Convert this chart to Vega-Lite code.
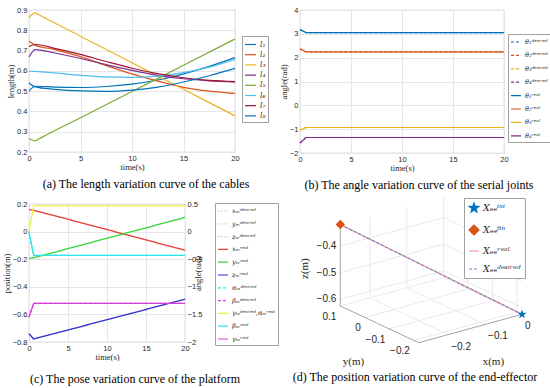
{
  "$schema": "https://vega.github.io/schema/vega-lite/v6.json",
  "padding": {"left": 1, "top": 5, "right": 0, "bottom": 0},
  "background": "white",
  "columns": 2,
  "spacing": {"row": 51, "column": 65},
  "bounds": "flush",
  "resolve": {"scale": {"color": "independent", "strokeDash": "independent", "shape": "independent", "stroke": "independent", "x": "independent", "y": "independent"}, "legend": {"color": "independent", "strokeDash": "independent", "shape": "independent"}},
  "config": {
    "font": "Liberation Sans",
    "view": {"stroke": "#a8a8a8", "strokeWidth": 0.8},
    "axis": {"labelFont": "Liberation Sans", "labelFontSize": 7.5, "labelColor": "#262626", "titleFont": "Liberation Serif", "titleFontSize": 8.5, "titleFontWeight": "normal", "titleColor": "#262626", "ticks": false, "domain": false, "gridColor": "#e6e6e6", "labelPadding": 2, "titlePadding": 1, "labelFlush": false, "labelOverlap": false},
    "legend": {"labelFont": "DejaVu Serif", "labelFontStyle": "italic", "labelColor": "#262626", "strokeColor": "#a0a0a0", "fillColor": "#ffffff", "padding": 2, "labelOffset": 3, "symbolStrokeWidth": 1.2, "symbolType": "stroke"},
    "title": {"font": "Liberation Serif", "fontSize": 12, "fontWeight": "normal", "color": "#000000"}
  },
  "datasets": {
    "a": [
      {"s":"l₁","t":0,"v":0.500},{"s":"l₁","t":0.6,"v":0.524},{"s":"l₁","t":2.5,"v":0.520},{"s":"l₁","t":5,"v":0.518},{"s":"l₁","t":7.5,"v":0.523},{"s":"l₁","t":10,"v":0.535},{"s":"l₁","t":12.5,"v":0.555},{"s":"l₁","t":15,"v":0.585},{"s":"l₁","t":17.5,"v":0.622},{"s":"l₁","t":20,"v":0.665},
      {"s":"l₂","t":0,"v":0.746},{"s":"l₂","t":0.6,"v":0.727},{"s":"l₂","t":2.5,"v":0.705},{"s":"l₂","t":5,"v":0.670},{"s":"l₂","t":7.5,"v":0.626},{"s":"l₂","t":10,"v":0.585},{"s":"l₂","t":12.5,"v":0.549},{"s":"l₂","t":15,"v":0.519},{"s":"l₂","t":17.5,"v":0.500},{"s":"l₂","t":20,"v":0.489},
      {"s":"l₃","t":0,"v":0.862},{"s":"l₃","t":0.6,"v":0.886},{"s":"l₃","t":0.8,"v":0.881},{"s":"l₃","t":1.2,"v":0.870},{"s":"l₃","t":5,"v":0.771},{"s":"l₃","t":10,"v":0.640},{"s":"l₃","t":15,"v":0.509},{"s":"l₃","t":20,"v":0.378},
      {"s":"l₄","t":0,"v":0.668},{"s":"l₄","t":0.6,"v":0.705},{"s":"l₄","t":2.5,"v":0.688},{"s":"l₄","t":5,"v":0.661},{"s":"l₄","t":7.5,"v":0.631},{"s":"l₄","t":10,"v":0.602},{"s":"l₄","t":12.5,"v":0.578},{"s":"l₄","t":15,"v":0.561},{"s":"l₄","t":17.5,"v":0.551},{"s":"l₄","t":20,"v":0.546},
      {"s":"l₅","t":0,"v":0.265},{"s":"l₅","t":0.6,"v":0.255},{"s":"l₅","t":0.8,"v":0.260},{"s":"l₅","t":1.2,"v":0.271},{"s":"l₅","t":5,"v":0.369},{"s":"l₅","t":10,"v":0.498},{"s":"l₅","t":15,"v":0.628},{"s":"l₅","t":20,"v":0.757},
      {"s":"l₆","t":0,"v":0.598},{"s":"l₆","t":0.6,"v":0.597},{"s":"l₆","t":2.5,"v":0.590},{"s":"l₆","t":5,"v":0.578},{"s":"l₆","t":7.5,"v":0.570},{"s":"l₆","t":10,"v":0.568},{"s":"l₆","t":12.5,"v":0.574},{"s":"l₆","t":15,"v":0.591},{"s":"l₆","t":17.5,"v":0.618},{"s":"l₆","t":20,"v":0.656},
      {"s":"l₇","t":0,"v":0.720},{"s":"l₇","t":0.6,"v":0.730},{"s":"l₇","t":2.5,"v":0.711},{"s":"l₇","t":5,"v":0.681},{"s":"l₇","t":7.5,"v":0.646},{"s":"l₇","t":10,"v":0.613},{"s":"l₇","t":12.5,"v":0.586},{"s":"l₇","t":15,"v":0.566},{"s":"l₇","t":17.5,"v":0.553},{"s":"l₇","t":20,"v":0.547},
      {"s":"l₈","t":0,"v":0.540},{"s":"l₈","t":0.6,"v":0.521},{"s":"l₈","t":2.5,"v":0.509},{"s":"l₈","t":5,"v":0.501},{"s":"l₈","t":7.5,"v":0.499},{"s":"l₈","t":10,"v":0.505},{"s":"l₈","t":12.5,"v":0.520},{"s":"l₈","t":15,"v":0.545},{"s":"l₈","t":17.5,"v":0.576},{"s":"l₈","t":20,"v":0.612}
    ],
    "b": [
      {"s":"θ₁ᵈᵉˢⁱʳᵉᵈ","t":0,"v":3.18},{"s":"θ₁ᵈᵉˢⁱʳᵉᵈ","t":0.6,"v":3.05},{"s":"θ₁ᵈᵉˢⁱʳᵉᵈ","t":20,"v":3.05},
      {"s":"θ₂ᵈᵉˢⁱʳᵉᵈ","t":0,"v":2.37},{"s":"θ₂ᵈᵉˢⁱʳᵉᵈ","t":0.6,"v":2.24},{"s":"θ₂ᵈᵉˢⁱʳᵉᵈ","t":20,"v":2.24},
      {"s":"θ₃ᵈᵉˢⁱʳᵉᵈ","t":0,"v":-1.04},{"s":"θ₃ᵈᵉˢⁱʳᵉᵈ","t":0.6,"v":-0.93},{"s":"θ₃ᵈᵉˢⁱʳᵉᵈ","t":20,"v":-0.93},
      {"s":"θ₄ᵈᵉˢⁱʳᵉᵈ","t":0,"v":-1.58},{"s":"θ₄ᵈᵉˢⁱʳᵉᵈ","t":0.6,"v":-1.35},{"s":"θ₄ᵈᵉˢⁱʳᵉᵈ","t":20,"v":-1.35},
      {"s":"θ₁ʳᵉᵃˡ","t":0,"v":3.18},{"s":"θ₁ʳᵉᵃˡ","t":0.6,"v":3.05},{"s":"θ₁ʳᵉᵃˡ","t":20,"v":3.05},
      {"s":"θ₂ʳᵉᵃˡ","t":0,"v":2.37},{"s":"θ₂ʳᵉᵃˡ","t":0.6,"v":2.24},{"s":"θ₂ʳᵉᵃˡ","t":20,"v":2.24},
      {"s":"θ₃ʳᵉᵃˡ","t":0,"v":-1.04},{"s":"θ₃ʳᵉᵃˡ","t":0.6,"v":-0.93},{"s":"θ₃ʳᵉᵃˡ","t":20,"v":-0.93},
      {"s":"θ₄ʳᵉᵃˡ","t":0,"v":-1.58},{"s":"θ₄ʳᵉᵃˡ","t":0.6,"v":-1.35},{"s":"θ₄ʳᵉᵃˡ","t":20,"v":-1.35}
    ],
    "c_pos": [
      {"s":"xₘᵈᵉˢⁱʳᵉᵈ","t":0,"v":0.16},{"s":"xₘᵈᵉˢⁱʳᵉᵈ","t":0.6,"v":0.155},{"s":"xₘᵈᵉˢⁱʳᵉᵈ","t":20,"v":-0.135},
      {"s":"yₘᵈᵉˢⁱʳᵉᵈ","t":0,"v":-0.195},{"s":"yₘᵈᵉˢⁱʳᵉᵈ","t":0.6,"v":-0.19},{"s":"yₘᵈᵉˢⁱʳᵉᵈ","t":20,"v":0.103},
      {"s":"zₘᵈᵉˢⁱʳᵉᵈ","t":0,"v":-0.74},{"s":"zₘᵈᵉˢⁱʳᵉᵈ","t":0.6,"v":-0.778},{"s":"zₘᵈᵉˢⁱʳᵉᵈ","t":20,"v":-0.49},
      {"s":"xₘʳᵉᵃˡ","t":0,"v":0.16},{"s":"xₘʳᵉᵃˡ","t":0.6,"v":0.155},{"s":"xₘʳᵉᵃˡ","t":20,"v":-0.135},
      {"s":"yₘʳᵉᵃˡ","t":0,"v":-0.195},{"s":"yₘʳᵉᵃˡ","t":0.6,"v":-0.19},{"s":"yₘʳᵉᵃˡ","t":20,"v":0.103},
      {"s":"zₘʳᵉᵃˡ","t":0,"v":-0.74},{"s":"zₘʳᵉᵃˡ","t":0.6,"v":-0.778},{"s":"zₘʳᵉᵃˡ","t":20,"v":-0.49}
    ],
    "c_ang": [
      {"s":"αₘᵈᵉˢⁱʳᵉᵈ","t":0,"v":0},{"s":"αₘᵈᵉˢⁱʳᵉᵈ","t":0.6,"v":-0.43},{"s":"αₘᵈᵉˢⁱʳᵉᵈ","t":20,"v":-0.43},
      {"s":"βₘᵈᵉˢⁱʳᵉᵈ","t":0,"v":-1.55},{"s":"βₘᵈᵉˢⁱʳᵉᵈ","t":0.6,"v":-1.3},{"s":"βₘᵈᵉˢⁱʳᵉᵈ","t":20,"v":-1.3},
      {"s":"γₘᵈᵉˢⁱʳᵉᵈ,αₘʳᵉᵃˡ","t":0,"v":0},{"s":"γₘᵈᵉˢⁱʳᵉᵈ,αₘʳᵉᵃˡ","t":0.6,"v":0.465},{"s":"γₘᵈᵉˢⁱʳᵉᵈ,αₘʳᵉᵃˡ","t":20,"v":0.465},
      {"s":"βₘʳᵉᵃˡ","t":0,"v":0},{"s":"βₘʳᵉᵃˡ","t":0.6,"v":-0.43},{"s":"βₘʳᵉᵃˡ","t":20,"v":-0.43},
      {"s":"γₘʳᵉᵃˡ","t":0,"v":-1.55},{"s":"γₘʳᵉᵃˡ","t":0.6,"v":-1.3},{"s":"γₘʳᵉᵃˡ","t":20,"v":-1.3}
    ],
    "d_seg": [
      {"k":"g","x1":-0.28,"y1":0.1,"z1":-0.6,"x2":0,"y2":0.1,"z2":-0.6},
      {"k":"g","x1":-0.28,"y1":0.1,"z1":-0.5,"x2":0,"y2":0.1,"z2":-0.5},
      {"k":"g","x1":-0.28,"y1":0.1,"z1":-0.4,"x2":0,"y2":0.1,"z2":-0.4},
      {"k":"g","x1":-0.2,"y1":0.1,"z1":-0.625,"x2":-0.2,"y2":0.1,"z2":-0.32},
      {"k":"g","x1":-0.1,"y1":0.1,"z1":-0.625,"x2":-0.1,"y2":0.1,"z2":-0.32},
      {"k":"g","x1":0,"y1":0.1,"z1":-0.625,"x2":0,"y2":0.1,"z2":-0.32},
      {"k":"g","x1":0,"y1":-0.22,"z1":-0.6,"x2":0,"y2":0.1,"z2":-0.6},
      {"k":"g","x1":0,"y1":-0.22,"z1":-0.5,"x2":0,"y2":0.1,"z2":-0.5},
      {"k":"g","x1":0,"y1":-0.22,"z1":-0.4,"x2":0,"y2":0.1,"z2":-0.4},
      {"k":"g","x1":0,"y1":0,"z1":-0.625,"x2":0,"y2":0,"z2":-0.32},
      {"k":"g","x1":0,"y1":-0.1,"z1":-0.625,"x2":0,"y2":-0.1,"z2":-0.32},
      {"k":"g","x1":0,"y1":-0.2,"z1":-0.625,"x2":0,"y2":-0.2,"z2":-0.32},
      {"k":"g","x1":-0.2,"y1":-0.22,"z1":-0.625,"x2":-0.2,"y2":0.1,"z2":-0.625},
      {"k":"g","x1":-0.1,"y1":-0.22,"z1":-0.625,"x2":-0.1,"y2":0.1,"z2":-0.625},
      {"k":"g","x1":0,"y1":-0.22,"z1":-0.625,"x2":0,"y2":0.1,"z2":-0.625},
      {"k":"g","x1":-0.28,"y1":-0.2,"z1":-0.625,"x2":0,"y2":-0.2,"z2":-0.625},
      {"k":"g","x1":-0.28,"y1":-0.1,"z1":-0.625,"x2":0,"y2":-0.1,"z2":-0.625},
      {"k":"g","x1":-0.28,"y1":0,"z1":-0.625,"x2":0,"y2":0,"z2":-0.625},
      {"k":"g","x1":-0.28,"y1":0.1,"z1":-0.625,"x2":0,"y2":0.1,"z2":-0.625},
      {"k":"b","x1":-0.28,"y1":0.1,"z1":-0.625,"x2":-0.28,"y2":0.1,"z2":-0.32},
      {"k":"b","x1":-0.28,"y1":0.1,"z1":-0.625,"x2":-0.28,"y2":-0.22,"z2":-0.625},
      {"k":"b","x1":-0.28,"y1":-0.22,"z1":-0.625,"x2":0,"y2":-0.22,"z2":-0.625}
    ],
    "d_traj": [
      {"s":"Xₑₑʳᵉᵃˡ","o":0,"x":-0.28,"y":0.1,"z":-0.32},{"s":"Xₑₑʳᵉᵃˡ","o":1,"x":0,"y":-0.22,"z":-0.625},
      {"s":"Xₑₑᵈᵉˢⁱʳᵉᵈ","o":0,"x":-0.28,"y":0.1,"z":-0.32},{"s":"Xₑₑᵈᵉˢⁱʳᵉᵈ","o":1,"x":0,"y":-0.22,"z":-0.625}
    ],
    "d_pts": [
      {"s":"Xₑₑⁱⁿⁱ","x":0,"y":-0.22,"z":-0.625},
      {"s":"Xₑₑᶠⁱⁿ","x":-0.28,"y":0.1,"z":-0.32}
    ],
    "d_txt": [
      {"r":"zt","lab":"−0.4","x":-0.28,"y":0.1,"z":-0.4},
      {"r":"zt","lab":"−0.5","x":-0.28,"y":0.1,"z":-0.5},
      {"r":"zt","lab":"−0.6","x":-0.28,"y":0.1,"z":-0.6},
      {"r":"yt","lab":"0.1","x":-0.28,"y":0.1,"z":-0.625},
      {"r":"yt","lab":"0","x":-0.28,"y":0,"z":-0.625},
      {"r":"yt","lab":"−0.1","x":-0.28,"y":-0.1,"z":-0.625},
      {"r":"yt","lab":"−0.2","x":-0.28,"y":-0.2,"z":-0.625},
      {"r":"xt","lab":"0","x":0,"y":-0.22,"z":-0.625},
      {"r":"xt","lab":"−0.1","x":-0.1,"y":-0.22,"z":-0.625},
      {"r":"xt","lab":"−0.2","x":-0.2,"y":-0.22,"z":-0.625},
      {"r":"zT","lab":"z(m)","x":-0.28,"y":0.1,"z":-0.47},
      {"r":"yT","lab":"y(m)","x":-0.28,"y":-0.06,"z":-0.625},
      {"r":"xT","lab":"x(m)","x":-0.14,"y":-0.22,"z":-0.625}
    ]
  },
  "concat": [
    {
      "width": 206, "height": 142,
      "title": {"text": "(a) The length variation curve of the cables", "orient": "bottom", "offset": 8, "frame": "group", "dx": 14},
      "data": {"name": "a"},
      "mark": {"type": "line", "interpolate": "monotone", "strokeWidth": 1.2},
      "encoding": {
        "x": {"field": "t", "type": "quantitative", "scale": {"domain": [0, 20], "nice": false}, "axis": {"title": "time(s)", "values": [0, 5, 10, 15, 20], "grid": true}},
        "y": {"field": "v", "type": "quantitative", "scale": {"domain": [0.2, 0.9], "nice": false, "zero": false}, "axis": {"title": "length(m)", "values": [0.2, 0.3, 0.4, 0.5, 0.6, 0.7, 0.8, 0.9], "format": ".1f", "grid": true}},
        "color": {"field": "s", "type": "nominal",
          "scale": {"domain": ["l₁","l₂","l₃","l₄","l₅","l₆","l₇","l₈"], "range": ["#0072BD","#D95319","#EDB120","#7E2F8E","#77AC30","#4DBEEE","#A2142F","#0072BD"]},
          "legend": {"title": null, "orient": "none", "legendX": 213, "legendY": 26, "labelFontSize": 7.5, "symbolSize": 121, "rowPadding": 0.2}}
      }
    },
    {
      "width": 204, "height": 143,
      "title": {"text": "(b) The angle variation curve of the serial joints", "orient": "bottom", "offset": 8, "frame": "group", "dx": 17},
      "data": {"name": "b"},
      "mark": {"type": "line", "strokeWidth": 1.2},
      "encoding": {
        "x": {"field": "t", "type": "quantitative", "scale": {"domain": [0, 20], "nice": false}, "axis": {"title": "time(s)", "values": [0, 5, 10, 15, 20], "grid": true}},
        "y": {"field": "v", "type": "quantitative", "scale": {"domain": [-2, 4], "nice": false, "zero": false}, "axis": {"title": "angle(rad)", "values": [-2, -1, 0, 1, 2, 3, 4], "format": "d", "grid": true}},
        "color": {"field": "s", "type": "nominal",
          "scale": {"domain": ["θ₁ᵈᵉˢⁱʳᵉᵈ","θ₂ᵈᵉˢⁱʳᵉᵈ","θ₃ᵈᵉˢⁱʳᵉᵈ","θ₄ᵈᵉˢⁱʳᵉᵈ","θ₁ʳᵉᵃˡ","θ₂ʳᵉᵃˡ","θ₃ʳᵉᵃˡ","θ₄ʳᵉᵃˡ"], "range": ["#0072BD","#D95319","#EDB120","#7E2F8E","#0072BD","#D95319","#EDB120","#7E2F8E"]},
          "legend": {"title": null, "orient": "none", "legendX": 208, "legendY": 24, "labelFontSize": 6.5, "symbolSize": 100, "rowPadding": 3.4}},
        "strokeDash": {"field": "s", "type": "nominal",
          "scale": {"domain": ["θ₁ᵈᵉˢⁱʳᵉᵈ","θ₂ᵈᵉˢⁱʳᵉᵈ","θ₃ᵈᵉˢⁱʳᵉᵈ","θ₄ᵈᵉˢⁱʳᵉᵈ","θ₁ʳᵉᵃˡ","θ₂ʳᵉᵃˡ","θ₃ʳᵉᵃˡ","θ₄ʳᵉᵃˡ"], "range": [[3,2],[3,2],[3,2],[3,2],[1,0],[1,0],[1,0],[1,0]]},
          "legend": {"title": null, "orient": "none", "legendX": 208, "legendY": 24, "labelFontSize": 6.5, "symbolSize": 100, "rowPadding": 3.4}}
      }
    },
    {
      "width": 156, "height": 138,
      "title": {"text": "(c) The pose variation curve of the platform", "orient": "bottom", "offset": 13, "frame": "group", "dx": 28},
      "layer": [
        {
          "data": {"name": "c_pos"},
          "mark": {"type": "line", "strokeWidth": 1.3},
          "encoding": {
            "x": {"field": "t", "type": "quantitative", "scale": {"domain": [0, 20], "nice": false}, "axis": {"title": "time(s)", "values": [0, 5, 10, 15, 20], "grid": true}},
            "y": {"field": "v", "type": "quantitative", "scale": {"domain": [-0.8, 0.2], "nice": false, "zero": false}, "axis": {"title": "position(m)", "values": [-0.8, -0.6, -0.4, -0.2, 0, 0.2], "format": ".1~f", "grid": true}},
            "color": {"field": "s", "type": "nominal",
              "scale": {"domain": ["xₘᵈᵉˢⁱʳᵉᵈ","yₘᵈᵉˢⁱʳᵉᵈ","zₘᵈᵉˢⁱʳᵉᵈ","xₘʳᵉᵃˡ","yₘʳᵉᵃˡ","zₘʳᵉᵃˡ","αₘᵈᵉˢⁱʳᵉᵈ","βₘᵈᵉˢⁱʳᵉᵈ","γₘᵈᵉˢⁱʳᵉᵈ,αₘʳᵉᵃˡ","βₘʳᵉᵃˡ","γₘʳᵉᵃˡ"], "range": ["#F3B3AE","#B6F0B6","#CFCFCF","#E8413C","#3CD63C","#2F2FD8","#2EE6E6","#E040E0","#F2F23C","#2EE6E6","#D63CD6"]},
              "legend": {"title": null, "orient": "none", "legendX": 186, "legendY": -1, "labelFontSize": 6.5, "symbolSize": 100, "rowPadding": 2.8}},
            "strokeDash": {"field": "s", "type": "nominal",
              "scale": {"domain": ["xₘᵈᵉˢⁱʳᵉᵈ","yₘᵈᵉˢⁱʳᵉᵈ","zₘᵈᵉˢⁱʳᵉᵈ","xₘʳᵉᵃˡ","yₘʳᵉᵃˡ","zₘʳᵉᵃˡ","αₘᵈᵉˢⁱʳᵉᵈ","βₘᵈᵉˢⁱʳᵉᵈ","γₘᵈᵉˢⁱʳᵉᵈ,αₘʳᵉᵃˡ","βₘʳᵉᵃˡ","γₘʳᵉᵃˡ"], "range": [[1.5,1.5],[1.5,1.5],[1.5,1.5],[1,0],[1,0],[1,0],[3,2],[3,2],[1,0],[1,0],[1,0]]},
              "legend": {"title": null, "orient": "none", "legendX": 186, "legendY": -1, "labelFontSize": 6.5, "symbolSize": 100, "rowPadding": 2.8}}
          }
        },
        {
          "data": {"name": "c_ang"},
          "mark": {"type": "line", "strokeWidth": 1.3},
          "encoding": {
            "x": {"field": "t", "type": "quantitative", "scale": {"domain": [0, 20], "nice": false}, "axis": {"title": "time(s)", "values": [0, 5, 10, 15, 20], "grid": true}},
            "y": {"field": "v", "type": "quantitative", "scale": {"domain": [-2, 0.5], "nice": false, "zero": false}, "axis": {"orient": "right", "title": "angle(rad)", "titleAngle": 270, "values": [-2, -1.5, -1, -0.5, 0, 0.5], "format": "~g", "grid": false}},
            "color": {"field": "s", "type": "nominal",
              "scale": {"domain": ["xₘᵈᵉˢⁱʳᵉᵈ","yₘᵈᵉˢⁱʳᵉᵈ","zₘᵈᵉˢⁱʳᵉᵈ","xₘʳᵉᵃˡ","yₘʳᵉᵃˡ","zₘʳᵉᵃˡ","αₘᵈᵉˢⁱʳᵉᵈ","βₘᵈᵉˢⁱʳᵉᵈ","γₘᵈᵉˢⁱʳᵉᵈ,αₘʳᵉᵃˡ","βₘʳᵉᵃˡ","γₘʳᵉᵃˡ"], "range": ["#F3B3AE","#B6F0B6","#CFCFCF","#E8413C","#3CD63C","#2F2FD8","#2EE6E6","#E040E0","#F2F23C","#2EE6E6","#D63CD6"]},
              "legend": {"title": null, "orient": "none", "legendX": 186, "legendY": -1, "labelFontSize": 6.5, "symbolSize": 100, "rowPadding": 2.8}},
            "strokeDash": {"field": "s", "type": "nominal",
              "scale": {"domain": ["xₘᵈᵉˢⁱʳᵉᵈ","yₘᵈᵉˢⁱʳᵉᵈ","zₘᵈᵉˢⁱʳᵉᵈ","xₘʳᵉᵃˡ","yₘʳᵉᵃˡ","zₘʳᵉᵃˡ","αₘᵈᵉˢⁱʳᵉᵈ","βₘᵈᵉˢⁱʳᵉᵈ","γₘᵈᵉˢⁱʳᵉᵈ,αₘʳᵉᵃˡ","βₘʳᵉᵃˡ","γₘʳᵉᵃˡ"], "range": [[1.5,1.5],[1.5,1.5],[1.5,1.5],[1,0],[1,0],[1,0],[3,2],[3,2],[1,0],[1,0],[1,0]]},
              "legend": {"title": null, "orient": "none", "legendX": 186, "legendY": -1, "labelFontSize": 6.5, "symbolSize": 100, "rowPadding": 2.8}}
          }
        }
      ],
      "resolve": {"scale": {"y": "independent"}}
    },
    {
      "width": 248, "height": 166,
      "view": {"stroke": null},
      "title": {"text": "(d) The position variation curve of the end-effector", "orient": "bottom", "offset": 2, "frame": "group", "dx": -9},
      "layer": [
        {
          "data": {"name": "d_seg"},
          "transform": [
            {"calculate": "520 + 368.9*datum.x1 - 245*(datum.y1+0.22)", "as": "u1"},
            {"calculate": "313.3 - 101.4*datum.x1 - 114.7*(datum.y1+0.22) - 267*(datum.z1+0.625)", "as": "w1"},
            {"calculate": "520 + 368.9*datum.x2 - 245*(datum.y2+0.22)", "as": "u2"},
            {"calculate": "313.3 - 101.4*datum.x2 - 114.7*(datum.y2+0.22) - 267*(datum.z2+0.625)", "as": "w2"}
          ],
          "mark": {"type": "rule", "strokeWidth": 0.8},
          "encoding": {
            "x": {"field": "u1", "type": "quantitative", "scale": {"domain": [298, 546], "nice": false, "zero": false}, "axis": null},
            "y": {"field": "w1", "type": "quantitative", "scale": {"domain": [203, 369], "nice": false, "zero": false, "reverse": true}, "axis": null},
            "x2": {"field": "u2"},
            "y2": {"field": "w2"},
            "stroke": {"field": "k", "type": "nominal", "scale": {"domain": ["g", "b"], "range": ["#e4e4e4", "#8a8a8a"]}, "legend": null}
          }
        },
        {
          "data": {"name": "d_traj"},
          "transform": [
            {"calculate": "520 + 368.9*datum.x - 245*(datum.y+0.22)", "as": "u"},
            {"calculate": "313.3 - 101.4*datum.x - 114.7*(datum.y+0.22) - 267*(datum.z+0.625)", "as": "w"}
          ],
          "mark": {"type": "line", "strokeWidth": 1.1},
          "encoding": {
            "x": {"field": "u", "type": "quantitative"},
            "y": {"field": "w", "type": "quantitative"},
            "order": {"field": "o"},
            "color": {"field": "s", "type": "nominal",
              "scale": {"domain": ["Xₑₑⁱⁿⁱ","Xₑₑᶠⁱⁿ","Xₑₑʳᵉᵃˡ","Xₑₑᵈᵉˢⁱʳᵉᵈ"], "range": ["#0072BD","#D95319","#E58A9A","#8080C8"]},
              "legend": {"title": null, "orient": "none", "legendX": 164, "legendY": -6, "labelFontSize": 9.5, "symbolSize": 100, "rowPadding": 7, "padding": 4}},
            "strokeDash": {"field": "s", "type": "nominal",
              "scale": {"domain": ["Xₑₑⁱⁿⁱ","Xₑₑᶠⁱⁿ","Xₑₑʳᵉᵃˡ","Xₑₑᵈᵉˢⁱʳᵉᵈ"], "range": [[1,0],[1,0],[1,0],[3,2]]},
              "legend": {"title": null, "orient": "none", "legendX": 164, "legendY": -6, "labelFontSize": 9.5, "symbolSize": 100, "rowPadding": 7, "padding": 4}}
          }
        },
        {
          "data": {"name": "d_pts"},
          "transform": [
            {"calculate": "520 + 368.9*datum.x - 245*(datum.y+0.22)", "as": "u"},
            {"calculate": "313.3 - 101.4*datum.x - 114.7*(datum.y+0.22) - 267*(datum.z+0.625)", "as": "w"}
          ],
          "mark": {"type": "point", "filled": true, "size": 90, "opacity": 1},
          "encoding": {
            "x": {"field": "u", "type": "quantitative"},
            "y": {"field": "w", "type": "quantitative"},
            "color": {"field": "s", "type": "nominal",
              "scale": {"domain": ["Xₑₑⁱⁿⁱ","Xₑₑᶠⁱⁿ","Xₑₑʳᵉᵃˡ","Xₑₑᵈᵉˢⁱʳᵉᵈ"], "range": ["#0072BD","#D95319","#E58A9A","#8080C8"]},
              "legend": {"title": null, "orient": "none", "legendX": 164, "legendY": -6, "labelFontSize": 9.5, "symbolSize": 100, "rowPadding": 7, "padding": 4}},
            "shape": {"field": "s", "type": "nominal",
              "scale": {"domain": ["Xₑₑⁱⁿⁱ","Xₑₑᶠⁱⁿ","Xₑₑʳᵉᵃˡ","Xₑₑᵈᵉˢⁱʳᵉᵈ"], "range": ["M0,-1L0.235,-0.324L0.951,-0.309L0.38,0.124L0.588,0.809L0,0.4L-0.588,0.809L-0.38,0.124L-0.951,-0.309L-0.235,-0.324Z", "diamond", "stroke", "stroke"]},
              "legend": {"title": null, "orient": "none", "legendX": 164, "legendY": -6, "labelFontSize": 9.5, "symbolSize": 100, "rowPadding": 7, "padding": 4}}
          }
        },
        {
          "data": {"name": "d_txt"},
          "transform": [
            {"filter": "datum.r == 'zt'"},
            {"calculate": "520 + 368.9*datum.x - 245*(datum.y+0.22)", "as": "u"},
            {"calculate": "313.3 - 101.4*datum.x - 114.7*(datum.y+0.22) - 267*(datum.z+0.625)", "as": "w"}
          ],
          "mark": {"type": "text", "align": "right", "baseline": "middle", "dx": -4, "font": "Liberation Sans", "fontSize": 10, "color": "#262626"},
          "encoding": {"x": {"field": "u", "type": "quantitative"}, "y": {"field": "w", "type": "quantitative"}, "text": {"field": "lab"}}
        },
        {
          "data": {"name": "d_txt"},
          "transform": [
            {"filter": "datum.r == 'yt'"},
            {"calculate": "520 + 368.9*datum.x - 245*(datum.y+0.22)", "as": "u"},
            {"calculate": "313.3 - 101.4*datum.x - 114.7*(datum.y+0.22) - 267*(datum.z+0.625)", "as": "w"}
          ],
          "mark": {"type": "text", "align": "right", "baseline": "middle", "dx": -4, "dy": 11, "font": "Liberation Sans", "fontSize": 10, "color": "#262626"},
          "encoding": {"x": {"field": "u", "type": "quantitative"}, "y": {"field": "w", "type": "quantitative"}, "text": {"field": "lab"}}
        },
        {
          "data": {"name": "d_txt"},
          "transform": [
            {"filter": "datum.r == 'xt'"},
            {"calculate": "520 + 368.9*datum.x - 245*(datum.y+0.22)", "as": "u"},
            {"calculate": "313.3 - 101.4*datum.x - 114.7*(datum.y+0.22) - 267*(datum.z+0.625)", "as": "w"}
          ],
          "mark": {"type": "text", "align": "left", "baseline": "middle", "dx": 3, "dy": 12, "font": "Liberation Sans", "fontSize": 10, "color": "#262626"},
          "encoding": {"x": {"field": "u", "type": "quantitative"}, "y": {"field": "w", "type": "quantitative"}, "text": {"field": "lab"}}
        },
        {
          "data": {"name": "d_txt"},
          "transform": [
            {"filter": "datum.r == 'zT'"},
            {"calculate": "520 + 368.9*datum.x - 245*(datum.y+0.22)", "as": "u"},
            {"calculate": "313.3 - 101.4*datum.x - 114.7*(datum.y+0.22) - 267*(datum.z+0.625)", "as": "w"}
          ],
          "mark": {"type": "text", "align": "center", "baseline": "middle", "angle": 270, "dx": -4, "dy": -35, "font": "Liberation Serif", "fontSize": 11, "color": "#262626"},
          "encoding": {"x": {"field": "u", "type": "quantitative"}, "y": {"field": "w", "type": "quantitative"}, "text": {"field": "lab"}}
        },
        {
          "data": {"name": "d_txt"},
          "transform": [
            {"filter": "datum.r == 'yT'"},
            {"calculate": "520 + 368.9*datum.x - 245*(datum.y+0.22)", "as": "u"},
            {"calculate": "313.3 - 101.4*datum.x - 114.7*(datum.y+0.22) - 267*(datum.z+0.625)", "as": "w"}
          ],
          "mark": {"type": "text", "align": "center", "baseline": "middle", "dx": -26, "dy": 38, "font": "Liberation Serif", "fontSize": 11, "color": "#262626"},
          "encoding": {"x": {"field": "u", "type": "quantitative"}, "y": {"field": "w", "type": "quantitative"}, "text": {"field": "lab"}}
        },
        {
          "data": {"name": "d_txt"},
          "transform": [
            {"filter": "datum.r == 'xT'"},
            {"calculate": "520 + 368.9*datum.x - 245*(datum.y+0.22)", "as": "u"},
            {"calculate": "313.3 - 101.4*datum.x - 114.7*(datum.y+0.22) - 267*(datum.z+0.625)", "as": "w"}
          ],
          "mark": {"type": "text", "align": "center", "baseline": "middle", "dx": 23, "dy": 34, "font": "Liberation Serif", "fontSize": 11, "color": "#262626"},
          "encoding": {"x": {"field": "u", "type": "quantitative"}, "y": {"field": "w", "type": "quantitative"}, "text": {"field": "lab"}}
        }
      ]
    }
  ]
}
